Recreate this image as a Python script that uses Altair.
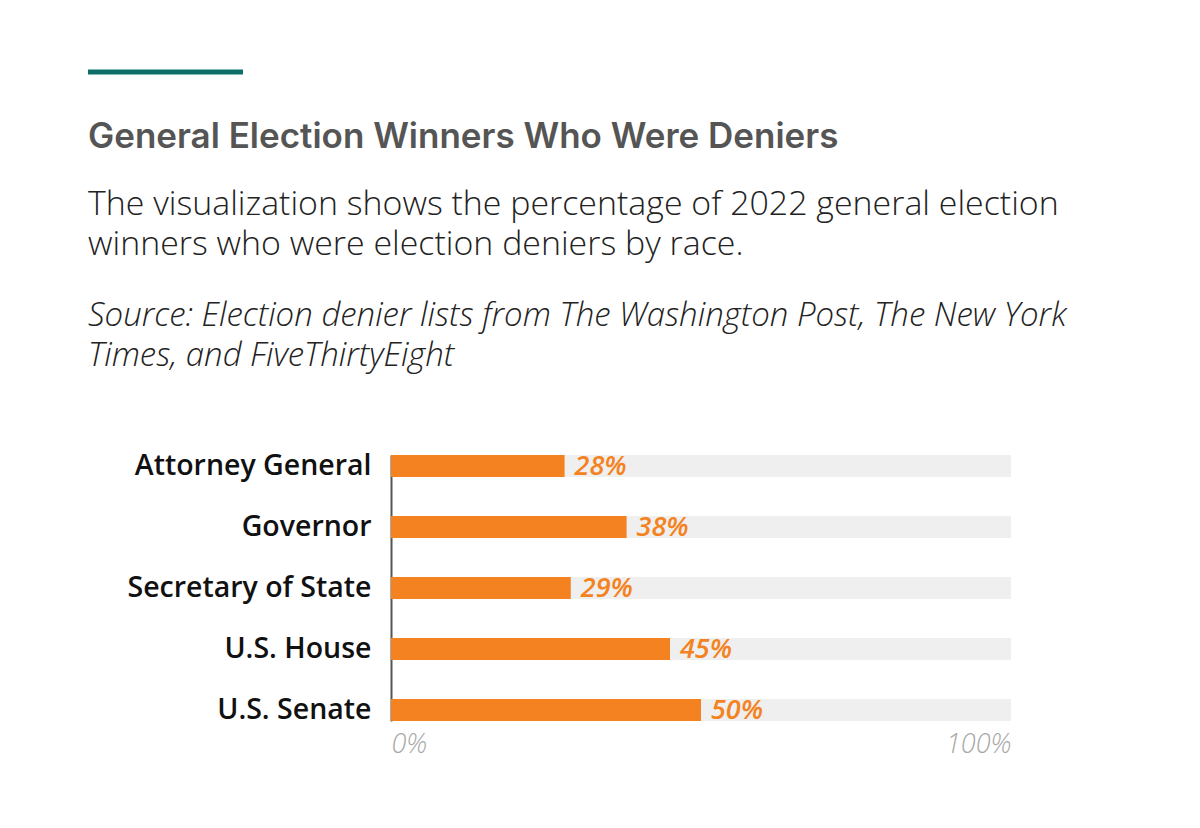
import altair as alt
import pandas as pd

# Share of 2022 general election winners who were election deniers, by race
races = ["Attorney General", "Governor", "Secretary of State", "U.S. House", "U.S. Senate"]
denier_pct = [28, 38, 29, 45, 50]
full_scale = [100, 100, 100, 100, 100]

title_text = "General Election Winners Who Were Deniers"
description_lines = [
    "The visualization shows the percentage of 2022 general election",
    "winners who were election deniers by race.",
]
source_lines = [
    "Source: Election denier lists from The Washington Post, The New York",
    "Times, and FiveThirtyEight",
]

df = pd.DataFrame({
    "race": races,
    "pct": denier_pct,
    "full": full_scale,
    "label": [f"{v}%" for v in denier_pct],
})

W, H = 620, 266
LEFT, TOP = 391, 455

x_scale = alt.Scale(domain=[0, 100], nice=False, zero=True)
y_scale = alt.Scale(domain=races, paddingInner=0.639, paddingOuter=0)

y_enc = alt.Y(
    "race:N",
    sort=races,
    scale=y_scale,
    title=None,
    axis=alt.Axis(
        domain=True, domainColor="#555555", domainWidth=2,
        ticks=False, labelPadding=20, labelLimit=400,
        labelFont="Open Sans", labelFontSize=28.5, labelFontWeight=600,
        labelColor="#111111", grid=False,
    ),
)

track = alt.Chart(df).mark_bar(color="#eeefee").encode(
    x=alt.X(
        "full:Q",
        scale=x_scale,
        title=None,
        axis=alt.Axis(
            values=[0, 100], format="d", labelExpr="datum.value + '%'",
            domain=False, ticks=False, grid=False, labelFlush=True,
            labelPadding=10, labelFont="Open Sans", labelFontSize=27,
            labelFontStyle="italic", labelFontWeight=300, labelColor="#a8a8a8",
        ),
    ),
    y=y_enc,
)

bars = alt.Chart(df).mark_bar(color="#f58220").encode(
    x=alt.X("pct:Q", scale=x_scale),
    y=alt.Y("race:N", sort=races, scale=y_scale),
)

values = alt.Chart(df).mark_text(
    align="left", baseline="middle", dx=10, dy=1,
    font="Open Sans", fontSize=27, fontStyle="italic", fontWeight=600,
    color="#f58220",
).encode(
    x=alt.X("pct:Q", scale=x_scale),
    y=alt.Y("race:N", sort=races, scale=y_scale),
    text="label:N",
)

# Header block drawn above the plot area
header_x = 88 - LEFT

accent = alt.Chart(df.head(1)).mark_rule(color="#0e6f69", strokeWidth=5).encode(
    x=alt.value(header_x), x2=alt.value(243 - LEFT), y=alt.value(72 - TOP)
)

title = alt.Chart(df.head(1)).mark_text(
    align="left", baseline="alphabetic", font="Inter", fontSize=35,
    fontWeight=600, color="#555555",
).encode(
    x=alt.value(header_x), y=alt.value(148 - TOP), text=alt.value(title_text)
)

desc_layers = []
for i, line in enumerate(description_lines):
    desc_layers.append(
        alt.Chart(df.head(1)).mark_text(
            align="left", baseline="alphabetic", font="Open Sans", fontSize=33.9,
            fontWeight=300, color="#222222",
        ).encode(
            x=alt.value(header_x), y=alt.value(215 + 40 * i - TOP), text=alt.value(line)
        )
    )

src_layers = []
for i, line in enumerate(source_lines):
    src_layers.append(
        alt.Chart(df.head(1)).mark_text(
            align="left", baseline="alphabetic", font="Open Sans", fontSize=33,
            fontWeight=300, fontStyle="italic", color="#222222",
        ).encode(
            x=alt.value(header_x), y=alt.value(326 + 40 * i - TOP), text=alt.value(line)
        )
    )

chart = alt.layer(
    track, bars, values, accent, title, *desc_layers, *src_layers
).properties(
    width=W,
    height=H,
    autosize=alt.AutoSizeParams(type="none"),
    padding={"left": LEFT, "top": TOP, "right": 1200 - LEFT - W, "bottom": 828 - TOP - H},
    background="white",
).configure_view(stroke=None)

chart.save("out.html", embed_options={"renderer": "svg", "actions": False})
